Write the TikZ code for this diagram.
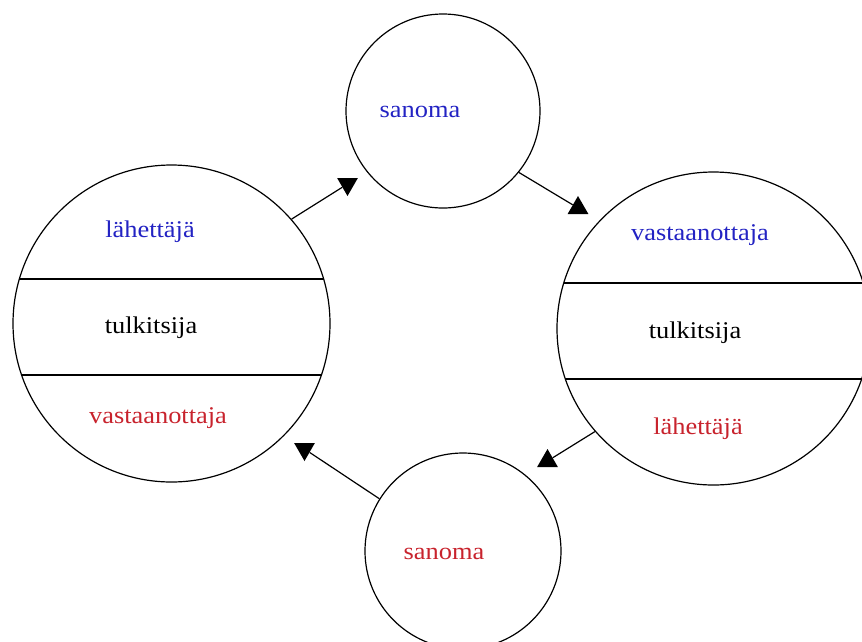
\documentclass[tikz,border=0pt]{standalone}
\usepackage{fontspec}
\setmainfont{Liberation Serif}[FakeStretch=1.1]
\usetikzlibrary{shapes.geometric}
\definecolor{txtblue}{RGB}{35,35,195}
\definecolor{txtred}{RGB}{200,35,45}
\begin{document}
\begin{tikzpicture}[x=1pt,y=-1pt,
  bubble/.style={draw, circle, inner sep=0pt, line width=1.2pt},
  txt/.style={anchor=base, inner sep=0pt, font=\fontsize{24}{28}\selectfont},
  head/.style={regular polygon, regular polygon sides=3, fill=black, inner sep=0pt, minimum size=24pt},
  conn/.style={line width=1.2pt},
  divider/.style={line width=1.2pt}]
\useasboundingbox (0,0) rectangle (862,641);
\clip (0,0) rectangle (862,641);

% circles
\node[bubble, minimum size=317pt] (L) at (171.5,323.5) {};
\node[bubble, minimum size=194pt] (T) at (443,111) {};
\node[bubble, minimum size=313pt] (R) at (713.5,328.5) {};
\node[bubble, minimum size=196pt] (B) at (463,551) {};

% dividers
\begin{scope}
  \clip (171.5,323.5) circle[radius=158.5];
  \draw[divider] (0,279) -- (340,279) (0,375) -- (340,375);
\end{scope}
\begin{scope}
  \clip (713.5,328.5) circle[radius=156.5];
  \draw[divider] (550,283) -- (880,283) (550,379) -- (880,379);
\end{scope}

% texts
\node[txt, text=txtblue] (l1) at (150,237) {lähettäjä};
\node[txt] (l2) at (151,333) {tulkitsija};
\node[txt, text=txtred] (l3) at (158,423) {vastaanottaja};
\node[txt, text=txtblue] (r1) at (700,240) {vastaanottaja};
\node[txt] (r2) at (695,338) {tulkitsija};
\node[txt, text=txtred] (r3) at (698,434) {lähettäjä};
\node[txt, text=txtblue] (t1) at (420,117) {sanoma};
\node[txt, text=txtred] (b1) at (444,559) {sanoma};

% arrow heads
\node[head, rotate=180] (h1) at (347.5,184) {};
\node[head] (h2) at (578,208) {};
\node[head] (h3) at (547.5,461) {};
\node[head, rotate=180] (h4) at (304.5,449) {};

% connectors
\draw[conn] (L.41) -- (h1);
\draw[conn] (T.-39) -- (h2);
\draw[conn] (R.221) -- (h3);
\draw[conn] (B.148) -- (h4);
\end{tikzpicture}
\end{document}
